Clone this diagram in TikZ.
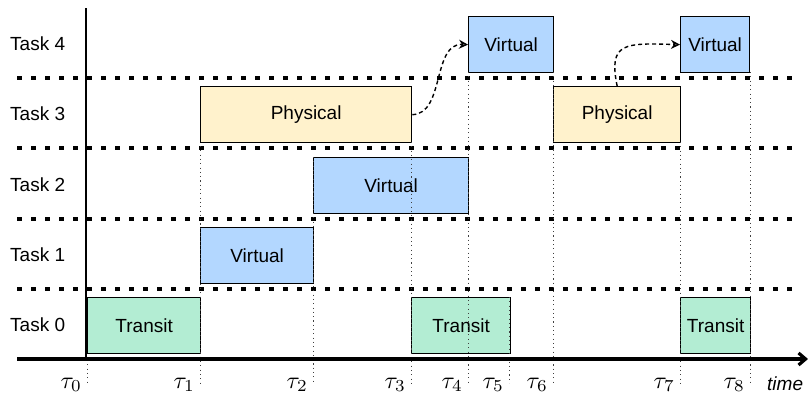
\documentclass[tikz,border=0pt]{standalone}
\usepackage{fontspec}
\setmainfont{Liberation Sans}
\usetikzlibrary{arrows.meta}
\definecolor{transitc}{HTML}{B3EDD3}
\definecolor{physc}{HTML}{FFF2CC}
\definecolor{virtc}{HTML}{B3D7FF}
\tikzset{
  lbl/.style={font=\fontsize{19}{22}\selectfont, inner sep=0pt},
  taskbox/.style={draw=black, line width=1.3pt, anchor=north west, inner sep=0pt,
    font=\fontsize{19}{22}\selectfont},
  transitbox/.style={taskbox, fill=transitc},
  physbox/.style={taskbox, fill=physc},
  virtbox/.style={taskbox, fill=virtc},
  rowline/.style={line width=3.3pt, dash pattern=on 4.5pt off 9.5pt},
  tauline/.style={line width=0.9pt, black!75, dash pattern=on 1.1pt off 3.2pt},
  flow/.style={line width=1.4pt, dash pattern=on 4pt off 3pt, -{Stealth[open,length=9pt,width=9pt]}},
  taulbl/.style={inner sep=0pt, anchor=east}
}
\begin{document}
\begin{tikzpicture}[x=1pt,y=-1pt]
\useasboundingbox (0,0) rectangle (808,400);
% row separators
\foreach \yy/\nm in {78/ra,148/rb,219/rc,289/rd}{
  \coordinate (\nm L) at (17,\yy);
  \coordinate (\nm R) at (800,\yy);
  \draw[rowline] (\nm L) -- (\nm R);
}
% task labels
\node[lbl, anchor=west] (l4) at (10,44) {Task 4};
\node[lbl, anchor=west] (l3) at (10,114) {Task 3};
\node[lbl, anchor=west] (l2) at (10,185) {Task 2};
\node[lbl, anchor=west] (l1) at (10,255) {Task 1};
\node[lbl, anchor=west] (l0) at (10,325) {Task 0};
% boxes
\node[transitbox, minimum width=113pt, minimum height=56pt] (t0a) at (87,297) {Transit};
\node[transitbox, minimum width=99pt, minimum height=56pt] (t0b) at (411,297) {Transit};
\node[transitbox, minimum width=70pt, minimum height=56pt] (t0c) at (680,297) {Transit};
\node[virtbox, minimum width=113pt, minimum height=56pt] (v1a) at (200,227) {Virtual};
\node[virtbox, minimum width=155pt, minimum height=56pt] (v2a) at (313,157) {Virtual};
\node[physbox, minimum width=211pt, minimum height=56pt] (p3a) at (200,86) {Physical};
\node[physbox, minimum width=127pt, minimum height=56pt] (p3b) at (553,86) {Physical};
\node[virtbox, minimum width=85pt, minimum height=56pt] (v4a) at (468,16) {Virtual};
\node[virtbox, minimum width=69pt, minimum height=56pt] (v4b) at (680,16) {Virtual};
% tau guide lines
\foreach \xx/\yt/\nm in {87/360/0,200/146/1,313/157/2,411/142/3,468/72/4,509/297/5,553/72/6,680/142/7,750/72/8}{
  \coordinate (g\nm T) at (\xx,\yt);
  \coordinate (g\nm B) at (\xx,383);
  \draw[tauline] (g\nm T) -- (g\nm B);
}
\foreach \xx/\nm in {87/0,200/1,313/2,411/3,468/4,509/5,553/6,680/7,750/8}{
  \node[taulbl] (tau\nm) at (\xx-5,385) {\scalebox{2.4}{$\tau_{\nm}$}};
}
% axes
\coordinate (ax0) at (17,359);
\coordinate (ax1) at (808,359);
\coordinate (ay0) at (86,360);
\coordinate (ay1) at (86,8);
\draw[line width=1.6pt] (ay0) -- (ay1);
\draw[line width=3.2pt, -{Straight Barb[length=7pt,width=12pt]}] (ax0) -- (ax1);
\node[lbl, anchor=west, font=\fontsize{19}{22}\selectfont\itshape] (timel) at (767,384) {time};
% flow arrows
\draw[flow] (p3a.east) .. controls (445,114) and (432,43) .. (v4a.west);
\draw[flow] (p3b.north) .. controls (608,42) and (625,43) .. (v4b.west);
\end{tikzpicture}
\end{document}
